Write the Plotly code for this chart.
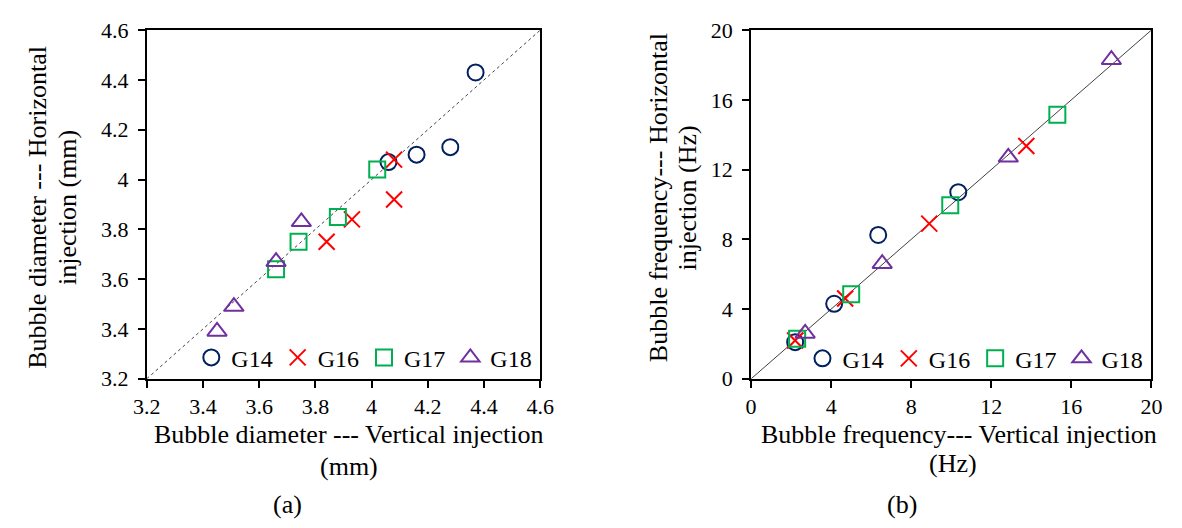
import plotly.graph_objects as go

# ---------------- data ----------------
# (a) Bubble diameter (mm): vertical injection (x) vs horizontal injection (y)
a_g14_x = [4.06, 4.16, 4.28, 4.37]
a_g14_y = [4.07, 4.10, 4.13, 4.43]
a_g16_x = [3.84, 3.93, 4.08, 4.08]
a_g16_y = [3.75, 3.84, 3.92, 4.08]
a_g17_x = [3.66, 3.74, 3.88, 4.02]
a_g17_y = [3.64, 3.75, 3.85, 4.04]
a_g18_x = [3.45, 3.51, 3.66, 3.75]
a_g18_y = [3.39, 3.49, 3.67, 3.83]
a_line = [3.2, 4.6]

# (b) Bubble frequency (Hz)
b_g14_x = [2.2, 4.15, 6.35, 10.35]
b_g14_y = [2.1, 4.3, 8.25, 10.7]
b_g16_x = [2.2, 4.7, 8.9, 13.75]
b_g16_y = [2.2, 4.6, 8.9, 13.35]
b_g17_x = [2.3, 5.0, 9.95, 15.3]
b_g17_y = [2.3, 4.85, 9.95, 15.15]
b_g18_x = [2.7, 6.55, 12.85, 18.0]
b_g18_y = [2.6, 6.6, 12.7, 18.3]
b_line = [0, 20]

series_names = ["G14", "G16", "G17", "G18"]
a_tickvals = [3.2, 3.4, 3.6, 3.8, 4.0, 4.2, 4.4, 4.6]
b_tickvals = [0, 4, 8, 12, 16, 20]

FONT = "Liberation Serif"
TICK_FS = 22
TITLE_FS = 26
LEG_FS = 24
W, H = 1182, 528

styles = {
    "G14": dict(symbol="circle-open", color="#002060", size=16),
    "G16": dict(symbol="x-thin-open", color="#FF0000", size=16),
    "G17": dict(symbol="square-open", color="#00B050", size=16),
    "G18": dict(symbol="triangle-up-open", color="#7030A0", size=17),
}

fig = go.Figure()

# reference (1:1) lines
fig.add_trace(go.Scatter(x=a_line, y=a_line, mode="lines", xaxis="x", yaxis="y",
                         line=dict(color="#404040", width=1, dash="dot"),
                         showlegend=False, hoverinfo="skip"))
fig.add_trace(go.Scatter(x=b_line, y=b_line, mode="lines", xaxis="x2", yaxis="y2",
                         line=dict(color="#404040", width=1),
                         showlegend=False, hoverinfo="skip"))

a_data = [(a_g14_x, a_g14_y), (a_g16_x, a_g16_y), (a_g17_x, a_g17_y), (a_g18_x, a_g18_y)]
b_data = [(b_g14_x, b_g14_y), (b_g16_x, b_g16_y), (b_g17_x, b_g17_y), (b_g18_x, b_g18_y)]

for name, (xs, ys) in zip(series_names, a_data):
    s = styles[name]
    fig.add_trace(go.Scatter(x=xs, y=ys, mode="markers", name=name, xaxis="x", yaxis="y",
                             legend="legend",
                             marker=dict(symbol=s["symbol"], size=s["size"],
                                         color=s["color"], line=dict(color=s["color"], width=2))))
for name, (xs, ys) in zip(series_names, b_data):
    s = styles[name]
    fig.add_trace(go.Scatter(x=xs, y=ys, mode="markers", name=name, xaxis="x2", yaxis="y2",
                             legend="legend2",
                             marker=dict(symbol=s["symbol"], size=s["size"],
                                         color=s["color"], line=dict(color=s["color"], width=2))))

axis_common = dict(showgrid=False, zeroline=False, showline=True, linecolor="black",
                   linewidth=2, mirror=True, ticks="outside", ticklen=7, tickwidth=1.5,
                   tickcolor="black",
                   tickfont=dict(family=FONT, size=TICK_FS, color="black"))

xa = (136 / W, 539 / W)
xb = (755 / W, 1165 / W)
ydom = (1 - 385 / H, 1 - 19 / H)

legend_common = dict(orientation="h", xanchor="right", yanchor="middle",
                     bgcolor="rgba(0,0,0,0)", font=dict(family=FONT, size=LEG_FS, color="black"),
                     itemwidth=30, tracegroupgap=0)

fig.update_layout(
    width=W, height=H,
    margin=dict(l=0, r=0, t=0, b=0),
    paper_bgcolor="white", plot_bgcolor="white",
    font=dict(family=FONT, size=TICK_FS, color="black"),
    xaxis=dict(domain=list(xa), range=[3.2, 4.6], tickvals=a_tickvals, anchor="y", **axis_common),
    yaxis=dict(domain=list(ydom), range=[3.2, 4.6], tickvals=a_tickvals, anchor="x",
               ticklabelstandoff=5, **axis_common),
    xaxis2=dict(domain=list(xb), range=[0, 20], tickvals=b_tickvals, anchor="y2", **axis_common),
    yaxis2=dict(domain=list(ydom), range=[0, 20], tickvals=b_tickvals, anchor="x2",
                ticklabelstandoff=5, **axis_common),
    legend=dict(x=536 / W, y=1 - 363 / H, **legend_common),
    legend2=dict(x=1162 / W, y=1 - 364 / H, **legend_common),
    showlegend=True,
)

def ann(text, x, y, angle=0):
    fig.add_annotation(text=text, x=x / W, y=1 - y / H, xref="paper", yref="paper",
                       showarrow=False, textangle=angle, xanchor="center", yanchor="middle",
                       font=dict(family=FONT, size=TITLE_FS, color="black"))

# left subplot titles
ann("Bubble diameter --- Vertical injection", 343, 444)
ann("(mm)", 343, 477)
ann("Bubble diameter --- Horizontal", 24, 205, -90)
ann("injection (mm)", 55, 205, -90)
ann("(a)", 280, 517)
# right subplot titles
ann("Bubble frequency--- Vertical injection", 968, 444)
ann("(Hz)", 962, 474)
ann("Bubble frequency--- Horizontal", 660, 195, -90)
ann("injection (Hz)", 690, 195, -90)
ann("(b)", 910, 517)

fig.write_html("out.html")
